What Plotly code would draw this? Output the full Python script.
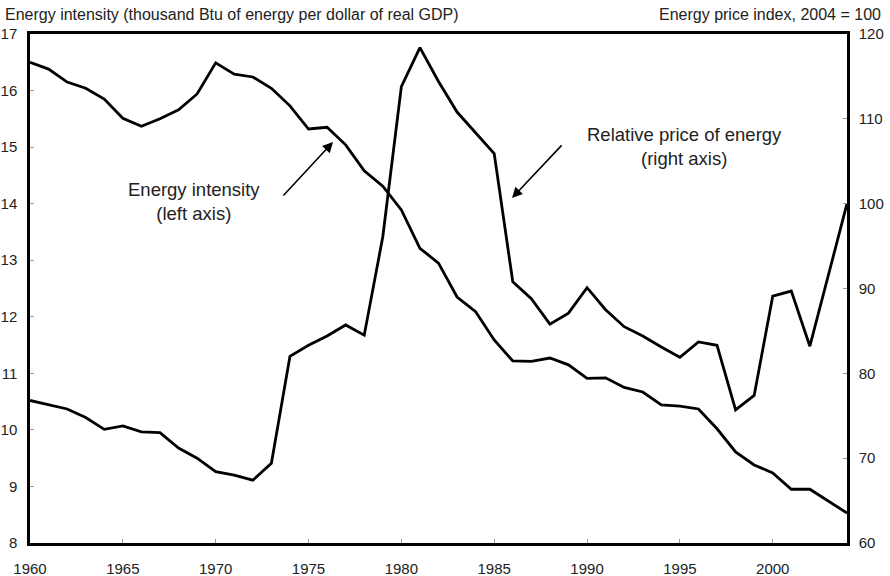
import plotly.graph_objects as go

years = list(range(1960, 2005))

energy_intensity = [
    16.50, 16.38, 16.15, 16.04, 15.85, 15.51, 15.37, 15.50, 15.66, 15.94,
    16.49, 16.29, 16.24, 16.04, 15.73, 15.32, 15.35, 15.04, 14.58, 14.31,
    13.89, 13.21, 12.95, 12.35, 12.09, 11.59, 11.22, 11.21, 11.27, 11.15,
    10.91, 10.92, 10.75, 10.67, 10.44, 10.42, 10.37, 10.02, 9.61, 9.38,
    9.24, 8.95, 8.95, 8.74, 8.53,
]

energy_price = [
    76.8, 76.3, 75.8, 74.8, 73.4, 73.8, 73.1, 73.0, 71.2, 70.0,
    68.4, 68.0, 67.4, 69.4, 82.0, 83.3, 84.4, 85.7, 84.5, 96.1,
    113.8, 118.4, 114.4, 110.8, 108.3, 105.9, 90.8, 88.8, 85.8, 87.1,
    90.1, 87.5, 85.5, 84.4, 83.1, 81.9, 83.7, 83.3, 75.7, 77.4,
    89.1, 89.7, 83.2, 91.5, 100.0,
]

x_ticks = [1960, 1965, 1970, 1975, 1980, 1985, 1990, 1995, 2000]
left_ticks = list(range(8, 18))
right_ticks = list(range(60, 121, 10))

FONT = "Liberation Sans, Arial, sans-serif"

fig = go.Figure()
fig.add_trace(go.Scatter(x=years, y=energy_intensity, mode="lines",
                         line=dict(color="black", width=2.8), yaxis="y",
                         showlegend=False, hoverinfo="skip"))
fig.add_trace(go.Scatter(x=years, y=energy_price, mode="lines",
                         line=dict(color="black", width=2.8), yaxis="y2",
                         showlegend=False, hoverinfo="skip"))

fig.update_layout(
    width=890, height=576,
    margin=dict(l=30, r=43, t=34, b=33),
    paper_bgcolor="white", plot_bgcolor="white",
    font=dict(family=FONT, color="#222", size=15),
    xaxis=dict(range=[1960, 2004], tickvals=x_ticks, ticks="inside",
               ticklen=4, tickcolor="#999", tickwidth=1, automargin=False,
               showline=True, linecolor="black", linewidth=2.5, mirror=True,
               showgrid=False, zeroline=False, ticklabelstandoff=10,
               tickfont=dict(size=15, family=FONT, color="#222")),
    yaxis=dict(range=[8, 17], tickvals=left_ticks, ticks="inside",
               ticklen=4, tickcolor="#999", tickwidth=1, automargin=False,
               showline=True, linecolor="black", linewidth=2.5,
               showgrid=False, zeroline=False, ticklabelstandoff=7,
               tickfont=dict(size=15, family=FONT, color="#222")),
    yaxis2=dict(range=[60, 120], tickvals=right_ticks, ticks="inside",
                ticklen=4, tickcolor="#999", tickwidth=1, automargin=False,
                overlaying="y", side="right",
                showline=True, linecolor="black", linewidth=2.5,
                showgrid=False, zeroline=False, ticklabelstandoff=6,
                tickfont=dict(size=15, family=FONT, color="#222")),
    annotations=[
        dict(text="Energy intensity (thousand Btu of energy per dollar of real GDP)",
             xref="paper", yref="paper", x=-0.033, y=1.039,
             xanchor="left", yanchor="middle", showarrow=False,
             font=dict(size=16, family=FONT, color="#222")),
        dict(text="Energy price index, 2004 = 100",
             xref="paper", yref="paper", x=1.044, y=1.039,
             xanchor="right", yanchor="middle", showarrow=False,
             font=dict(size=16, family=FONT, color="#222")),
        dict(text="Energy intensity<br>(left axis)",
             xref="paper", yref="paper", x=0.2007, y=0.670,
             xanchor="center", yanchor="middle", showarrow=False,
             font=dict(size=18.5, family=FONT, color="#222")),
        dict(text="Relative price of energy<br>(right axis)",
             xref="paper", yref="paper", x=0.8005, y=0.778,
             xanchor="center", yanchor="middle", showarrow=False,
             font=dict(size=18.5, family=FONT, color="#222")),
        dict(text="", xref="paper", yref="paper", x=0.3709, y=0.7878,
             ax=-51, ay=55, showarrow=True, arrowhead=2, arrowsize=1.3,
             arrowwidth=1.6, arrowcolor="black"),
        dict(text="", xref="paper", yref="paper", x=0.590, y=0.678,
             ax=51, ay=-54, showarrow=True, arrowhead=2, arrowsize=1.3,
             arrowwidth=1.6, arrowcolor="black"),
    ],
)

fig.write_html("out.html", config={"displayModeBar": False},
               post_script="document.body.style.margin='0';")
